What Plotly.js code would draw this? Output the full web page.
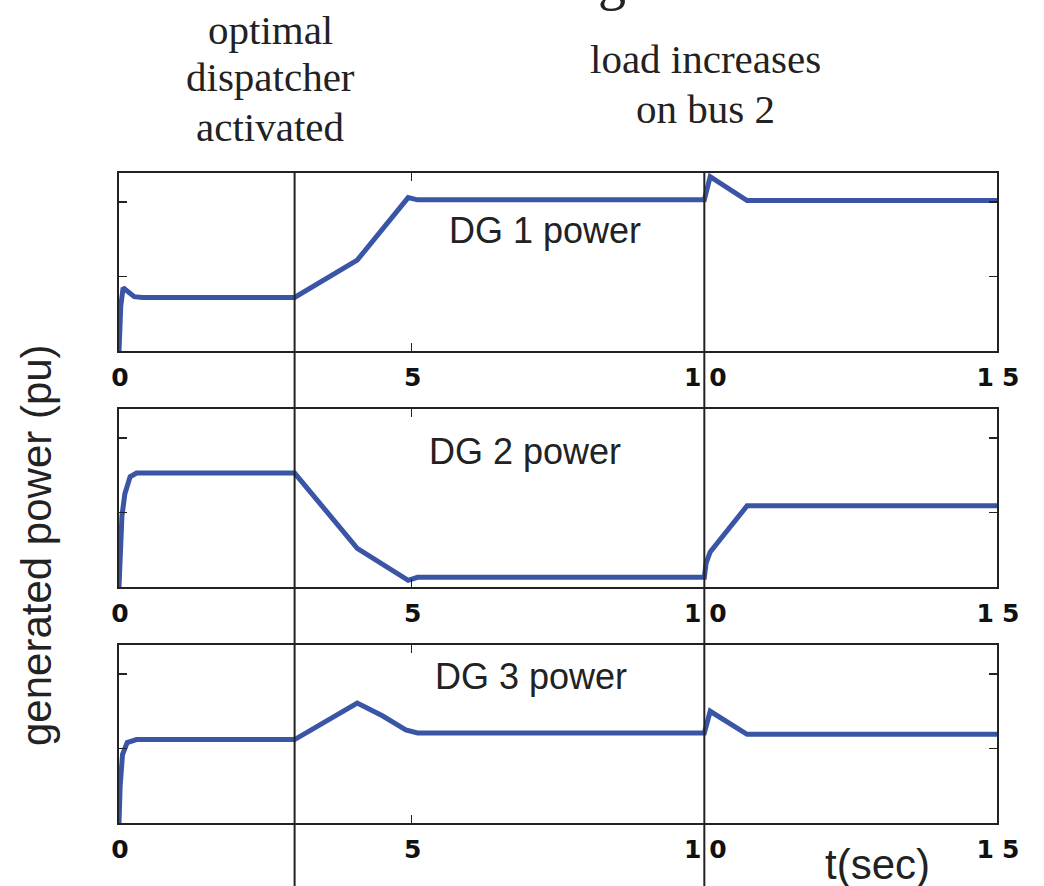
<!DOCTYPE html>
<html><head><meta charset="utf-8">
<script src="https://cdn.plot.ly/plotly-3.0.1.min.js"></script>
<style>
html,body{margin:0;padding:0;background:#fff;}
#chart{width:1044px;height:886px;}
.xtick text, .x2tick text, .x3tick text{letter-spacing:8px;}
</style></head><body><div id="chart"></div>
<script>
// time (sec) and generated power (arbitrary pu tick units)
const tDG1 = [0, 0.03, 0.07, 0.15, 0.26, 0.4, 3.0, 4.07, 4.94, 5.1, 10.0, 10.1, 10.73, 15];
const pDG1 = [0, 0.6, 0.85, 0.8, 0.73, 0.72, 0.72, 1.22, 2.06, 2.03, 2.03, 2.34, 2.02, 2.02];

const tDG2 = [0, 0.02, 0.05, 0.1, 0.19, 0.3, 3.0, 4.07, 4.94, 5.1, 10.0, 10.03, 10.1, 10.73, 15];
const pDG2 = [0, 0.45, 0.95, 1.25, 1.48, 1.53, 1.53, 0.52, 0.09, 0.13, 0.13, 0.32, 0.47, 1.09, 1.09];

const tDG3 = [0, 0.02, 0.06, 0.14, 0.3, 3.0, 4.07, 4.5, 4.75, 4.9, 5.1, 10.0, 10.1, 10.73, 15];
const pDG3 = [0, 0.5, 0.92, 1.08, 1.12, 1.12, 1.61, 1.44, 1.32, 1.25, 1.21, 1.21, 1.50, 1.19, 1.19];

const xTickVals = [0, 5, 10, 15];
const xTickText = ['0', '5', '10', '15'];
const yTickVals = [1, 2];
const eventTimes = [3, 10];
const panelLabels = ['DG 1 power', 'DG 2 power', 'DG 3 power'];
const eventLabel1 = ['optimal', 'dispatcher', 'activated'];
const eventLabel2 = ['load increases', 'on bus 2'];

const H = 886;
const py = v => 1 - v / H;          // pixel row -> paper fraction
const px = v => (v - 119) / 878;    // pixel column -> paper fraction

const blue = '#3a55a6';
const ink = '#222';

function trace(x, y, xa, ya) {
  return {x, y, xaxis: xa, yaxis: ya, type: 'scatter', mode: 'lines',
          line: {color: blue, width: 5}, hoverinfo: 'skip'};
}
const data = [
  trace(tDG1, pDG1, 'x', 'y'),
  trace(tDG2, pDG2, 'x2', 'y2'),
  trace(tDG3, pDG3, 'x3', 'y3')
];

function xax(anchor) {
  return {anchor, domain: [0, 1], range: [0, 15], tickmode: 'array',
          tickvals: xTickVals, ticktext: xTickText, ticks: 'inside', ticklen: 8,
          tickwidth: 1.5, tickcolor: ink, showline: true, linecolor: ink, linewidth: 2,
          mirror: 'ticks', showgrid: false, zeroline: false, automargin: false,
          ticklabelstandoff: 3, ticklabelshift: 5,
          tickfont: {family: 'DejaVu Sans', size: 25, weight: 'bold', color: '#111'}};
}
function yax(anchor, top, bottom) {
  return {anchor, domain: [py(bottom), py(top)], range: [0, 2.39], tickmode: 'array',
          tickvals: yTickVals, ticks: 'inside', ticklen: 8, tickwidth: 1.5, tickcolor: ink,
          showticklabels: false, showline: true, linecolor: ink, linewidth: 2,
          mirror: 'ticks', showgrid: false, zeroline: false, automargin: false};
}

const shapes = eventTimes.map(t => ({type: 'line', xref: 'x', yref: 'paper',
  x0: t, x1: t, y0: 0, y1: py(173), line: {color: ink, width: 2}, layer: 'above'}));

const sans = 'Liberation Sans, Arial, sans-serif';
const serif = 'Liberation Serif, Times New Roman, serif';
function note(text, cx, cy, family, size, extra) {
  return Object.assign({text, xref: 'paper', yref: 'paper', x: px(cx), y: py(cy),
    showarrow: false, xanchor: 'center', yanchor: 'middle',
    font: {family, size, color: ink}}, extra || {});
}
const annotations = [
  note(panelLabels[0], 545, 230, sans, 36),
  note(panelLabels[1], 525, 452, sans, 36),
  note(panelLabels[2], 531, 676, sans, 36),
  note(eventLabel1[0], 270, 30, serif, 41),
  note(eventLabel1[1], 270, 77, serif, 41),
  note(eventLabel1[2], 270, 127, serif, 41),
  note(eventLabel2[0], 705, 59, serif, 41),
  note(eventLabel2[1], 705, 109, serif, 41),
  note('g', 612, -20, serif, 56),
  note('generated power (pu)', 36, 545, sans, 42, {textangle: -90}),
  note('t(sec)', 877, 864, sans, 42)
];

const layout = {
  width: 1044, height: 886, margin: {l: 119, r: 47, t: 0, b: 0},
  paper_bgcolor: '#fff', plot_bgcolor: '#fff', showlegend: false,
  xaxis: xax('y'), xaxis2: xax('y2'), xaxis3: xax('y3'),
  yaxis: yax('x', 173, 351), yaxis2: yax('x2', 409, 587), yaxis3: yax('x3', 645, 823),
  shapes, annotations
};

Plotly.newPlot('chart', data, layout, {displayModeBar: false, staticPlot: true});
</script></body></html>
